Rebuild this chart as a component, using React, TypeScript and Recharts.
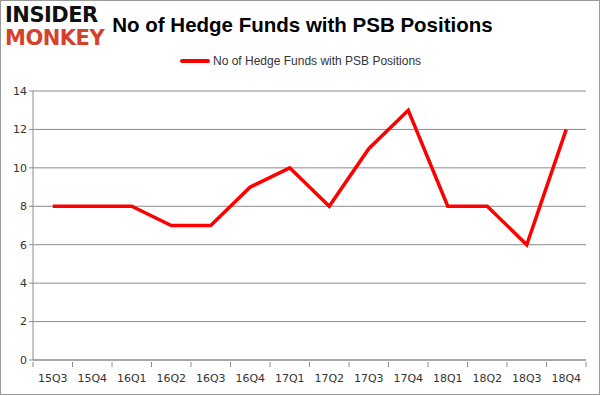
import { LineChart, Line, XAxis, YAxis, CartesianGrid } from "recharts";

// quarters and hedge fund counts
const quarters = ["15Q3", "15Q4", "16Q1", "16Q2", "16Q3", "16Q4", "17Q1", "17Q2", "17Q3", "17Q4", "18Q1", "18Q2", "18Q3", "18Q4"];
const funds = [8, 8, 8, 7, 7, 9, 10, 8, 11, 13, 8, 8, 6, 12];
const yTicks = [0, 2, 4, 6, 8, 10, 12, 14];

const data = quarters.map((q, i) => ({ q, funds: funds[i] }));

const AXIS = "#8c8c8c";
const TEXT = "#333";
const HALF = (586 - 33) / quarters.length / 2;

// excel style: tick marks sit between categories, not under labels
function QuarterTick(props: any) {
  const { x, y, payload, index } = props;
  const last = index === quarters.length - 1;
  return (
    <g>
      <line x1={x - HALF} y1={y - 6} x2={x - HALF} y2={y - 1} stroke={AXIS} />
      {last && <line x1={x + HALF} y1={y - 6} x2={x + HALF} y2={y - 1} stroke={AXIS} />}
      <text x={x} y={y + 14} textAnchor="middle" fontSize={11} fill={TEXT} fontFamily="DejaVu Sans">
        {payload.value}
      </text>
    </g>
  );
}

export default function App() {
  return (
    <div style={{ position: "absolute", left: 0, top: 0, width: 601, height: 396, background: "#fff" }}>
      <div
        style={{
          position: "absolute",
          left: 0,
          top: 0,
          width: 598,
          height: 393,
          border: "1px solid #999",
        }}
      />
      {/* logo */}
      <div style={{ position: "absolute", left: 5, top: 4, fontFamily: "DejaVu Sans", fontWeight: 900, lineHeight: "23px", letterSpacing: -0.5 }}>
        <div style={{ fontSize: 21, color: "#111" }}>INSIDER</div>
        <div style={{ fontSize: 21, color: "#d6412c" }}>MONKEY</div>
      </div>
      <div
        style={{
          position: "absolute",
          left: 0,
          width: 601,
          top: 13,
          textAlign: "center",
          fontFamily: "Liberation Sans",
          fontWeight: 700,
          fontSize: 20.5,
          color: "#000",
          paddingLeft: 2,
        }}
      >
        No of Hedge Funds with PSB Positions
      </div>
      {/* legend */}
      <div style={{ position: "absolute", left: 180, top: 54, display: "flex", alignItems: "center", fontFamily: "Liberation Sans", fontSize: 12, color: TEXT }}>
        <span style={{ display: "inline-block", width: 30, height: 4, background: "#ff0000", borderRadius: 2, marginRight: 3 }} />
        No of Hedge Funds with PSB Positions
      </div>
      <LineChart width={601} height={396} data={data} margin={{ top: 91, right: 15, bottom: 12, left: 0 }}>
        <CartesianGrid vertical={false} stroke={AXIS} strokeWidth={1} />
        <XAxis
          dataKey="q"
          axisLine={{ stroke: AXIS }}
          tickLine={false}
          tick={<QuarterTick />}
          height={24}
          interval={0}
          padding={{ left: HALF, right: HALF }}
        />
        <YAxis
          domain={[0, 14]}
          ticks={yTicks}
          width={33}
          axisLine={{ stroke: AXIS }}
          tickLine={{ stroke: AXIS }}
          tickSize={4}
          tick={{ fontSize: 11, fill: TEXT, fontFamily: "DejaVu Sans" }}
        />
        <Line
          type="linear"
          dataKey="funds"
          stroke="#ff0000"
          strokeWidth={3.5}
          dot={false}
          isAnimationActive={false}
        />
      </LineChart>
    </div>
  );
}
